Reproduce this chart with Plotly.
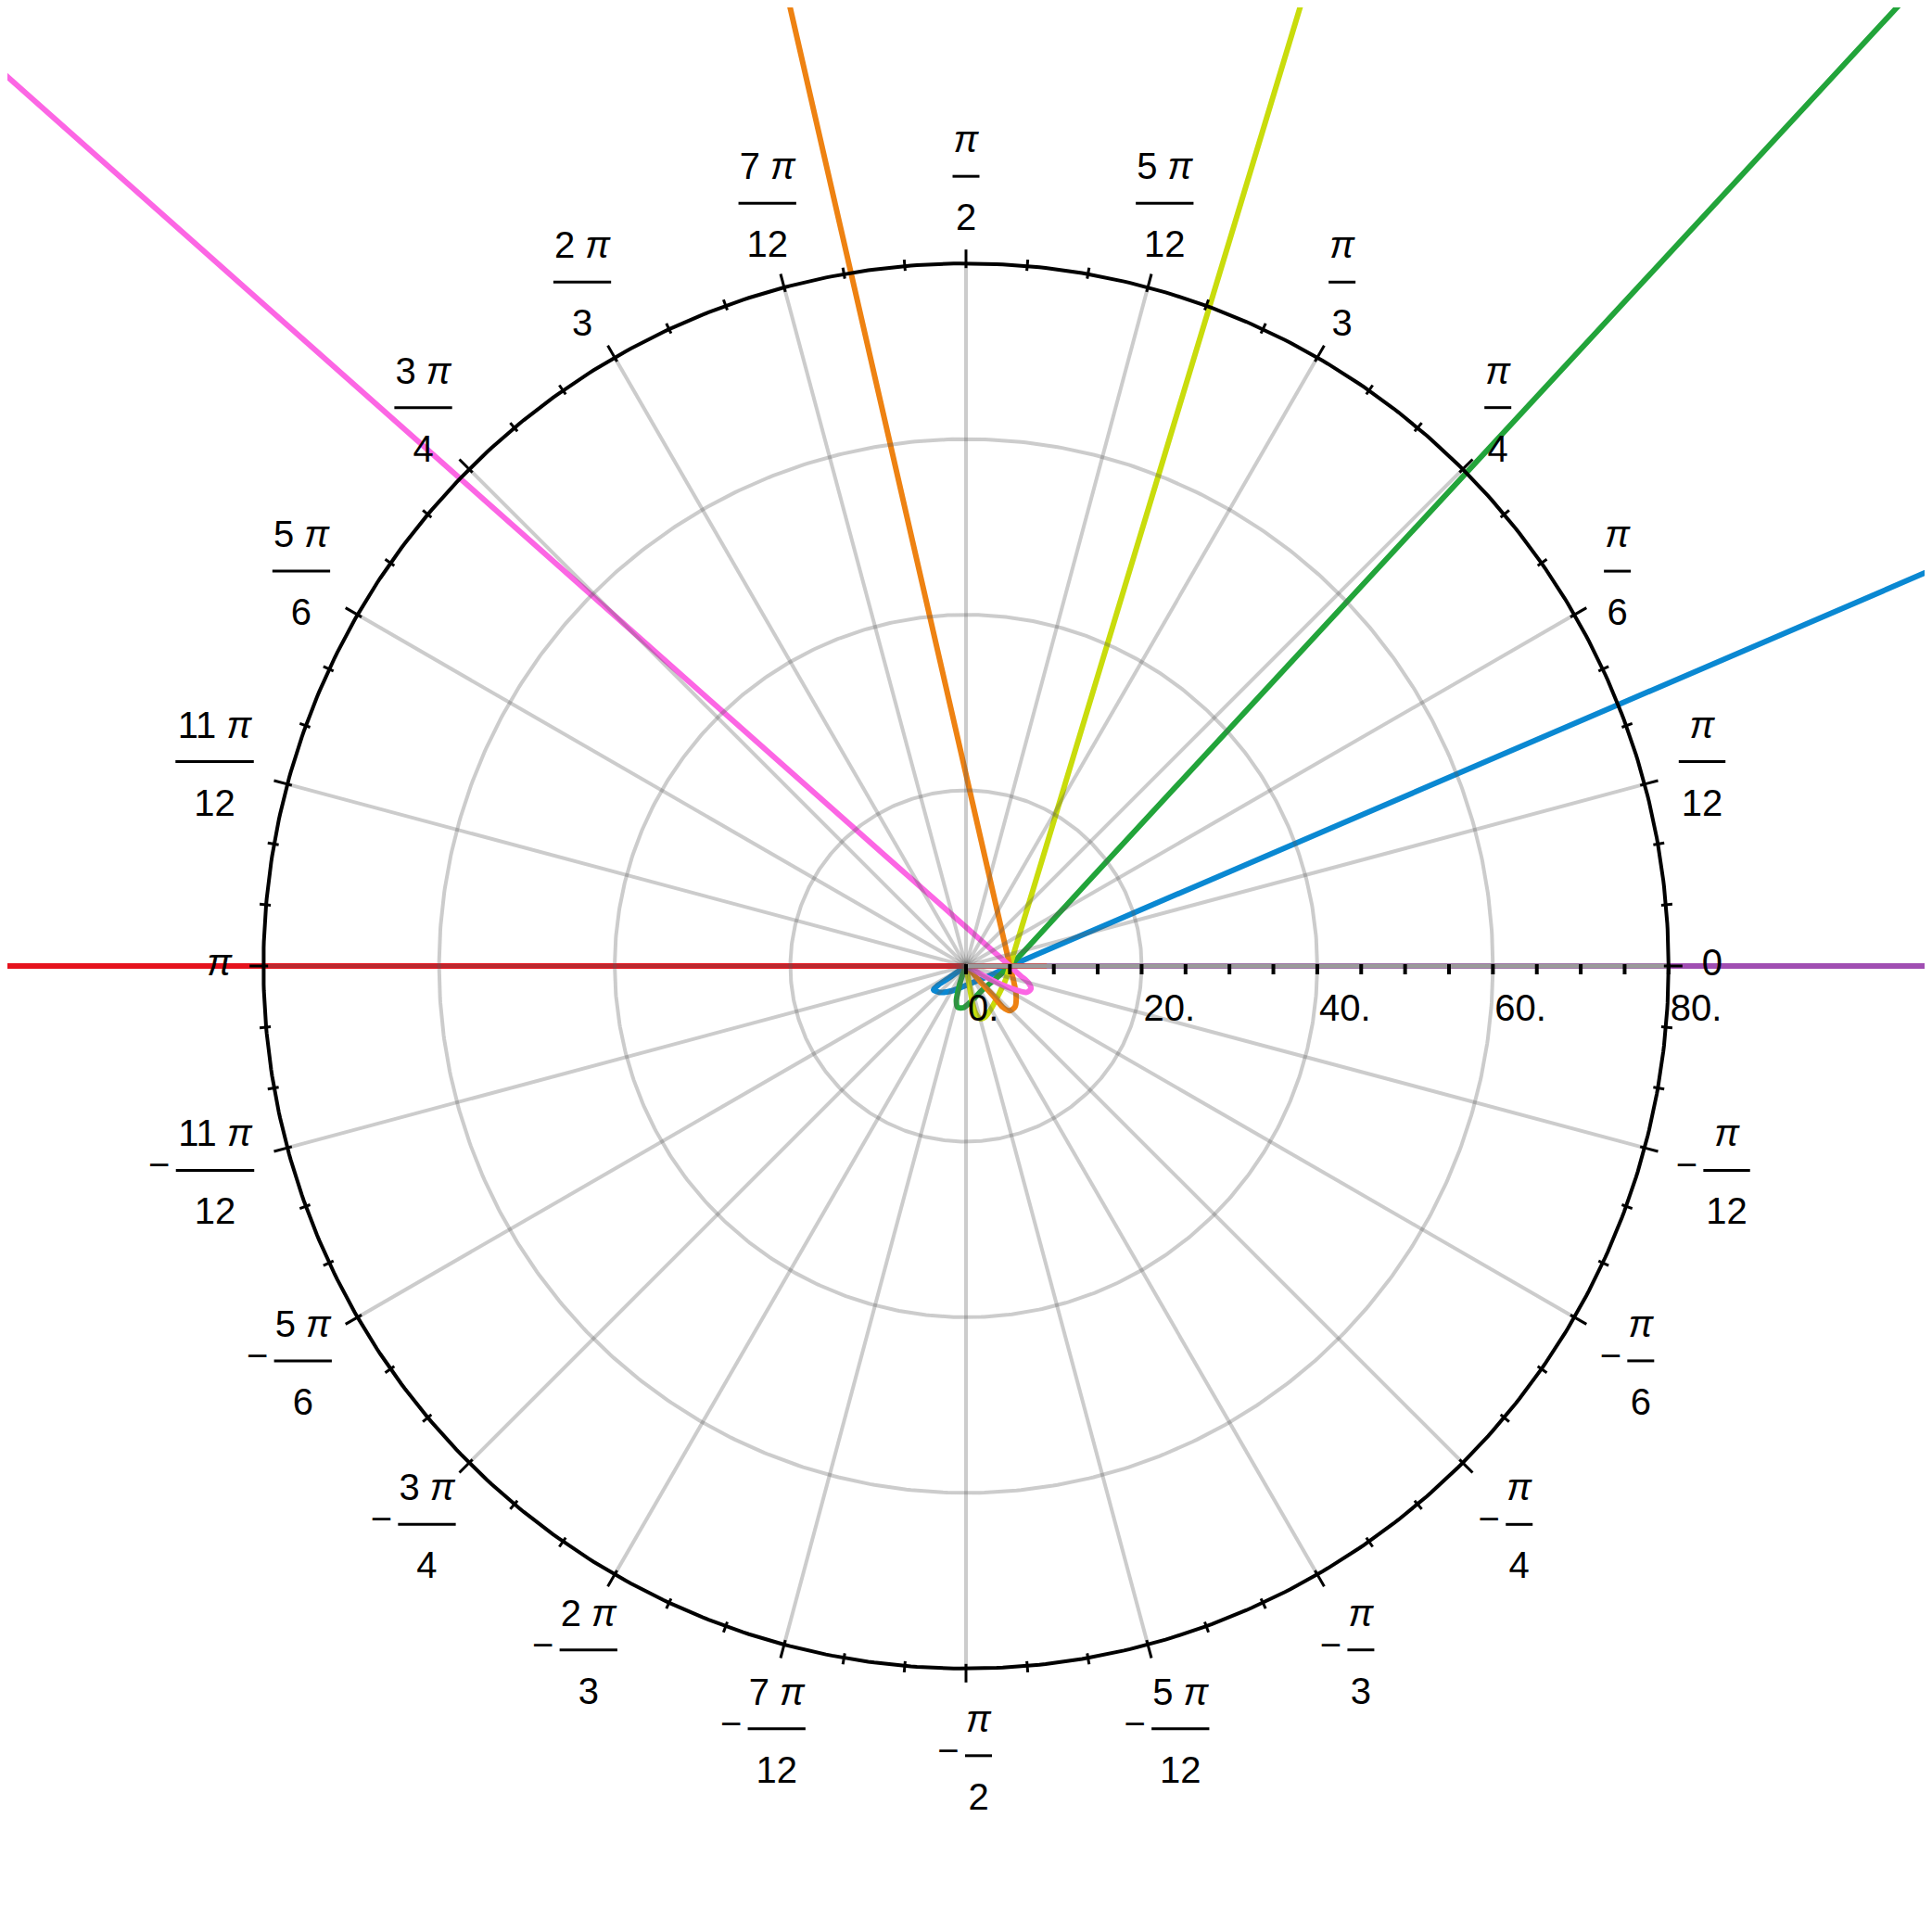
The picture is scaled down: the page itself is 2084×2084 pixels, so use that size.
import numpy as np
import plotly.graph_objects as go

# curves, in radial units. each one comes in from outside the frame as a straight
# line, runs through the point (5, 0) and curls into a small petal at the pole
PURPLE_X = [0.0, 150.0]
PURPLE_Y = [0.0, 0.0]
BLUE_X = [150.0, 20.0, 5.0, 3.0, 0.5, -1.5, -3.0, -3.7, -3.2, -2.0, -0.8, 0.0]
BLUE_Y = [62.3, 6.44, 0.0, -0.95, -2.0, -2.8, -3.0, -2.7, -2.2, -1.4, -0.55, 0.0]
GREEN_X = [143.8, 15.0, 5.0, 3.3, 1.8, 0.6, -0.3, -0.95, -1.1, -0.9, -0.5, 0.0]
GREEN_Y = [150.0, 10.8, 0.0, -1.5, -2.8, -4.0, -4.75, -4.7, -4.0, -2.8, -1.3, 0.0]
YELLOW_X = [50.4, 11.06, 5.0, 4.5, 3.7, 2.9, 2.2, 1.6, 1.1, 0.7, 0.35, 0.0]
YELLOW_Y = [150.0, 20.0, 0.0, -1.6, -3.3, -4.8, -5.8, -6.0, -5.4, -4.0, -2.0, 0.0]
ORANGE_X = [-29.4, 0.42, 5.0, 5.4, 5.7, 5.6, 5.0, 4.2, 3.2, 1.8, 0.7, 0.0]
ORANGE_Y = [150.0, 20.0, 0.0, -1.6, -3.2, -4.6, -5.1, -4.7, -3.5, -2.0, -0.75, 0.0]
PINK_X = [-150.0, -15.0, 5.0, 6.2, 7.1, 7.4, 6.9, 5.6, 3.8, 2.0, 0.8, 0.0]
PINK_Y = [137.5, 17.7, 0.0, -1.1, -1.9, -2.6, -3.0, -2.7, -2.0, -1.1, -0.4, 0.0]
RED_X = [-150.0, 9.2]
RED_Y = [0.0, 0.0]

CURVES = [
    (PURPLE_X, PURPLE_Y, "#a04eb2"),
    (BLUE_X, BLUE_Y, "#0a88d2"),
    (GREEN_X, GREEN_Y, "#22a43a"),
    (YELLOW_X, YELLOW_Y, "#c9dc0c"),
    (ORANGE_X, ORANGE_Y, "#ee8212"),
    (PINK_X, PINK_Y, "#fc66e4"),
    (RED_X, RED_Y, "#e5131d"),
]

# polar frame
GRID_R = [20, 40, 60]
R_MAX = 80
RADIAL_LABELS = [0, 20, 40, 60, 80]
RADIAL_MINOR_STEP = 5
ANG_DEG = [0, 15, 30, 45, 60, 75, 90, 105, 120, 135, 150, 165, 180]
ANG_NUM = ["", "", "", "", "", "5", "", "7", "2", "3", "5", "11", ""]
ANG_DEN = ["", "12", "6", "4", "3", "12", "2", "12", "3", "4", "6", "12", ""]

S = 220 / 2084  # radial units per pixel
# page body has an 8px margin, so the pole sits at 1034px inside the plot
X_RANGE = [-1034 * S, (2084 - 1034) * S]
Y_RANGE = [-(2084 - 1034) * S, 1034 * S]
FONT = dict(family="Liberation Sans, Arial, sans-serif", size=40, color="black")
GRID_COLOR = "rgba(90,90,90,0.31)"


def text_w(s):
    w = 0
    for ch in s:
        w += 11.1 if ch == " " else (23 if ch == "π" else 22.2)
    return w


def segs(pairs):
    xs, ys = [], []
    for (x0, y0), (x1, y1) in pairs:
        xs += [x0, x1, None]
        ys += [y0, y1, None]
    return xs, ys


def label_center(w, h, c, s_):
    # anchor just outside the ring, box aligned by the direction cosines
    r = R_MAX / S + GAP
    return r * c + w / 2 * c, r * s_ + h / 2 * s_


fig = go.Figure()

for xs, ys, col in CURVES:
    fig.add_scatter(x=xs, y=ys, mode="lines", line=dict(color=col, width=6, shape="spline", smoothing=0.8))

# grid: spokes + circles, drawn over the curves
t = np.linspace(0, 2 * np.pi, 721)
spokes = [((0, 0), (R_MAX * np.cos(np.radians(a)), R_MAX * np.sin(np.radians(a)))) for a in range(0, 360, 15)]
sx, sy = segs(spokes)
fig.add_scatter(x=sx, y=sy, mode="lines", line=dict(color=GRID_COLOR, width=4))
for r in GRID_R:
    fig.add_scatter(x=r * np.cos(t), y=r * np.sin(t), mode="lines", line=dict(color=GRID_COLOR, width=4))

# radial axis with ticks
fig.add_scatter(x=[0, R_MAX], y=[0, 0], mode="lines", line=dict(color="#9a9a9a", width=5))
rx, ry = segs([((r, 2 * S), (r, -9 * S)) for r in range(0, R_MAX + 1, RADIAL_MINOR_STEP)])
fig.add_scatter(x=rx, y=ry, mode="lines", line=dict(color="black", width=4))

# outer circle with angular ticks
fig.add_scatter(x=R_MAX * np.cos(t), y=R_MAX * np.sin(t), mode="lines", line=dict(color="black", width=4))
tk = []
for a in range(0, 360, 5):
    c, s_ = np.cos(np.radians(a)), np.sin(np.radians(a))
    r0, r1 = (R_MAX - 5 * S, R_MAX + 15 * S) if a % 15 == 0 else (R_MAX - 5 * S, R_MAX + 7 * S)
    tk.append(((r0 * c, r0 * s_), (r1 * c, r1 * s_)))
tx, ty = segs(tk)
fig.add_scatter(x=tx, y=ty, mode="lines", line=dict(color="black", width=3))

# angular labels, written as stacked fractions
lab_x, lab_y, lab_t = [], [], []
bars = []
GAP = 32
for sign in (1, -1):
    for a, n, d in zip(ANG_DEG, ANG_NUM, ANG_DEN):
        if sign == -1 and a in (0, 180):
            continue
        ang = np.radians(a * sign)
        c, s_ = np.cos(ang), np.sin(ang)
        if d == "":
            txt = "0" if a == 0 else "<i>π</i>"
            cx, cy = label_center(text_w("0" if a == 0 else "π") + 8, 36, c, s_)
            lab_x.append(cx * S)
            lab_y.append(cy * S)
            lab_t.append(txt)
            continue
        num = (n + " π") if n else "π"
        fw = max(text_w(num), text_w(d)) + 6
        neg = sign == -1
        mw = 20 + 7 if neg else 0
        cx, cy = label_center(fw + mw + 14, 124, c, s_)
        fx = cx + mw / 2
        by = cy
        bars.append((((fx - fw / 2) * S, by * S), ((fx + fw / 2) * S, by * S)))
        lab_x += [fx * S, fx * S]
        lab_y += [(by + 36) * S, (by - 48) * S]
        lab_t += [(n + " <i>π</i>") if n else "<i>π</i>", d]
        if neg:
            lab_x.append((fx - fw / 2 - 7 - 11) * S)
            lab_y.append((by + 2) * S)
            lab_t.append("−")

bx, by_ = segs(bars)
fig.add_scatter(x=bx, y=by_, mode="lines", line=dict(color="black", width=3))
fig.add_scatter(x=lab_x, y=lab_y, text=lab_t, mode="text", textposition="middle center", textfont=FONT)

# radial labels
fig.add_scatter(
    x=[r + 2 * S for r in RADIAL_LABELS],
    y=[-49 * S] * len(RADIAL_LABELS),
    text=[f"{r}." for r in RADIAL_LABELS],
    mode="text", textposition="middle right", textfont=FONT,
)

fig.update_layout(
    width=2084, height=2084,
    margin=dict(l=0, r=0, t=0, b=0),
    paper_bgcolor="white", plot_bgcolor="white",
    showlegend=False, hovermode=False,
    xaxis=dict(range=X_RANGE, visible=False),
    yaxis=dict(range=Y_RANGE, visible=False, scaleanchor="x"),
)

fig.write_html("out.html")
